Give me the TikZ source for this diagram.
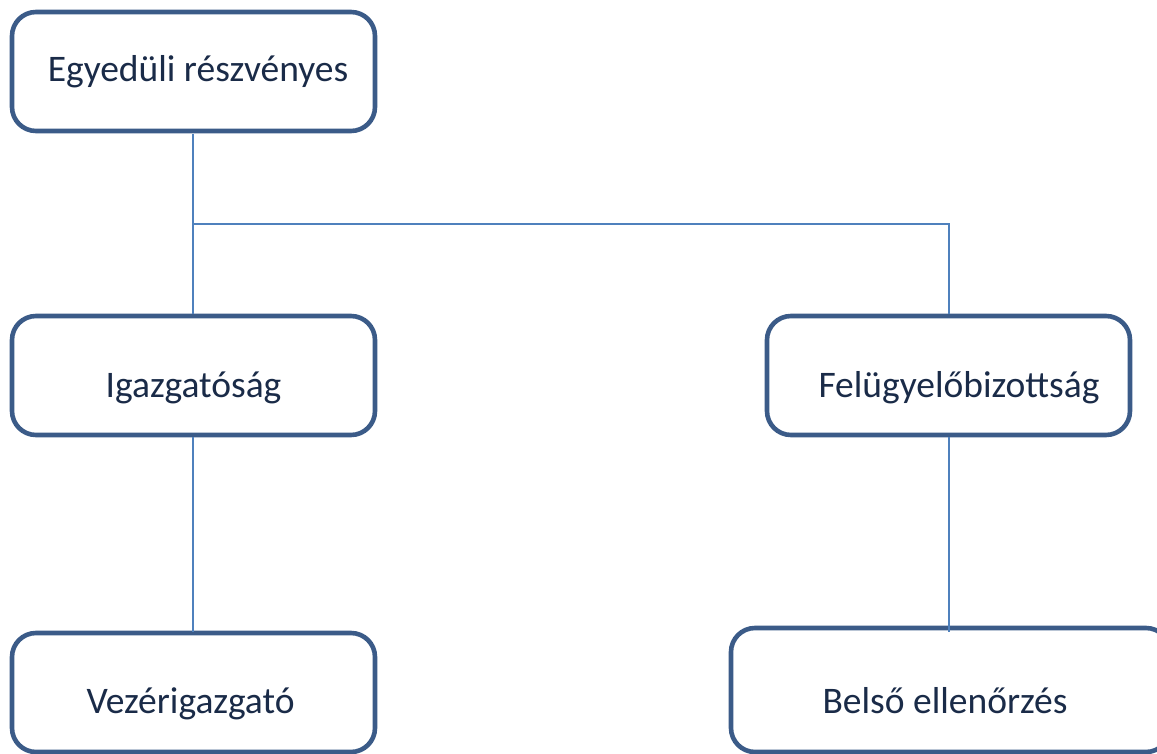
\documentclass[tikz,border=0pt]{standalone}
\usepackage{fontspec}
\setmainfont{Carlito}
\definecolor{boxborder}{HTML}{3B5B88}
\definecolor{linkblue}{HTML}{4F81BD}
\definecolor{textnavy}{HTML}{1A2B48}
\begin{document}
\begin{tikzpicture}[x=1pt,y=-1pt,
  orgbox/.style={draw=boxborder,line width=4.6pt,rounded corners=24pt,fill=white},
  orgtext/.style={anchor=base,inner sep=0pt,text=textnavy,font=\fontsize{37.5}{44}\selectfont},
  link/.style={draw=linkblue,line width=1.6pt}]
\useasboundingbox (0,0) rectangle (1157,754);
\clip (0,0) rectangle (1157,754);
% boxes
\draw[orgbox] (12,12) rectangle (375,131);
\draw[orgbox] (12,316) rectangle (375,435);
\draw[orgbox] (767,316) rectangle (1130,435);
\draw[orgbox] (12,633) rectangle (375,752);
\draw[orgbox] (731,628) rectangle (1170,752);
% connectors
\coordinate (a0) at (193,134);
\coordinate (jA) at (193,224);
\coordinate (a1) at (193,314);
\coordinate (jB) at (949,224);
\coordinate (b1) at (949,314);
\coordinate (a2) at (193,437);
\coordinate (a3) at (193,632);
\coordinate (b2) at (949,437);
\coordinate (b3) at (949,632);
\draw[link] (a0) -- (jA) -- (a1);
\draw[link] (jA) -- (jB) -- (b1);
\draw[link] (a2) -- (a3);
\draw[link] (b2) -- (b3);
% texts
\node[orgtext] (t1) at (198,82) {Egyedüli részvényes};
\node[orgtext] (t2) at (193.5,397) {Igazgatóság};
\node[orgtext] (t3) at (959,397) {Felügyelőbizottság};
\node[orgtext] (t4) at (190.5,713) {Vezérigazgató};
\node[orgtext] (t5) at (945,713) {Belső ellenőrzés};
\end{tikzpicture}
\end{document}
